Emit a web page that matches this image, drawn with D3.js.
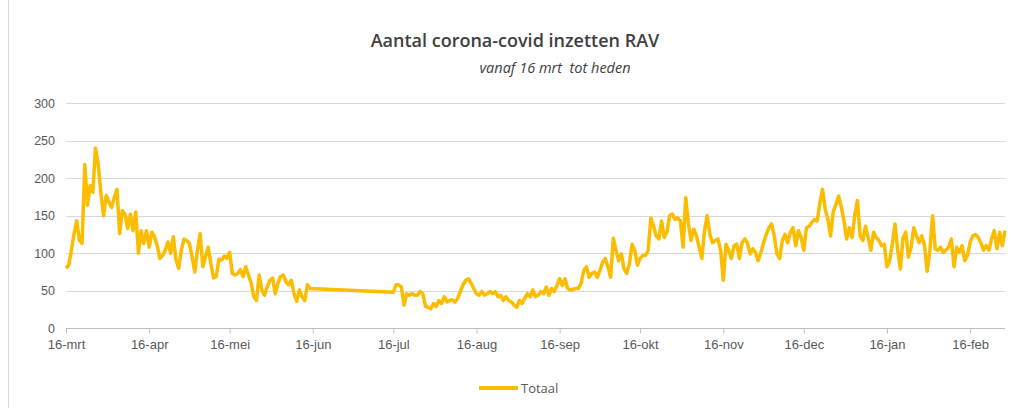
<!DOCTYPE html>
<html>
<head>
<meta charset="utf-8">
<script src="https://cdn.jsdelivr.net/npm/d3@7"></script>
<style>
  body { margin: 0; background: #fff; }
  svg { font-family: "Open Sans", sans-serif; }
</style>
</head>
<body>
<div id="chart"></div>
<script>

var titel = "Aantal corona-covid inzetten RAV";
var subtitel = "vanaf 16 mrt  tot heden";
var reeksNaam = "Totaal";

// eerste dag van de reeks, daarna 1 waarde per dag (null = geen gegevens)
var startDatum = "2020-03-16";
var totaal = [
  80, 84, 104, 126, 143, 117, 113, 218, 164, 190, 181, 240, 219, 180, 150, 177, 168, 161, 174, 185,
  126, 157, 152, 133, 152, 130, 155, 100, 130, 113, 130, 108, 128, 122, 110, 93, 97, 104, 115, 100,
  122, 91, 80, 104, 119, 117, 113, 95, 75, 104, 126, 82, 95, 108, 86, 67, 69, 92, 91, 96,
  93, 101, 73, 71, 73, 78, 69, 82, 71, 60, 42, 37, 71, 51, 44, 55, 64, 67, 46, 60,
  69, 71, 62, 58, 64, 46, 36, 51, 42, 37, 58, 53,
  null, null, null, null, null, null, null, null, null, null,
  null, null, null, null, null, null, null, null, null, null,
  null, null, null, null, null, null, null, null, null, null,
  48, 58, 58, 55, 31, 46, 44, 46, 44, 44, 49, 46, 29, 28, 26, 33, 29, 37, 33, 42,
  35, 37, 38, 35, 40, 49, 58, 64, 66, 60, 53, 46, 44, 49, 44, 46, 49, 46, 49, 42,
  44, 37, 42, 37, 35, 31, 28, 37, 33, 40, 46, 42, 51, 42, 44, 49, 46, 55, 44, 53,
  49, 57, 66, 57, 66, 53, 51, 52, 53, 53, 60, 77, 82, 68, 73, 75, 68, 77, 88, 93,
  82, 68, 120, 104, 90, 99, 79, 73, 86, 112, 104, 84, 93, 97, 97, 104, 147, 136, 123, 119,
  143, 121, 128, 150, 152, 145, 147, 143, 108, 174, 139, 117, 132, 123, 108, 93, 130, 150, 125, 114,
  117, 119, 104, 64, 112, 104, 93, 110, 112, 93, 114, 119, 114, 99, 106, 101, 90, 101, 114, 125,
  134, 139, 123, 99, 93, 117, 125, 114, 128, 134, 110, 130, 121, 104, 134, 136, 141, 145, 143, 167,
  185, 158, 145, 123, 156, 165, 176, 161, 143, 119, 134, 121, 150, 170, 123, 117, 136, 121, 104, 128,
  121, 117, 110, 112, 82, 90, 112, 139, 104, 79, 121, 128, 95, 108, 134, 123, 114, 123, 110, 76,
  104, 150, 106, 104, 108, 101, 104, 108, 119, 82, 108, 101, 110, 90, 97, 114, 123, 125, 121, 114,
  104, 110, 104, 119, 130, 106, 128, 110, 130
];

var yTicks = [0, 50, 100, 150, 200, 250, 300];
var maanden = ["jan", "feb", "mrt", "apr", "mei", "jun", "jul", "aug", "sep", "okt", "nov", "dec"];
var tickDatums = ["2020-03-16", "2020-04-16", "2020-05-16", "2020-06-16", "2020-07-16", "2020-08-16",
  "2020-09-16", "2020-10-16", "2020-11-16", "2020-12-16", "2021-01-16", "2021-02-16"];

var width = 1012;
var height = 408;

var parse = d3.timeParse("%Y-%m-%d");
var start = parse(startDatum);

var data = [];
for (var i = 0; i < totaal.length; i++) {
  if (totaal[i] === null) continue;
  data.push({ datum: d3.timeDay.offset(start, i), waarde: totaal[i] });
}

var svg = d3.select("#chart")
  .append("svg")
  .attr("width", width)
  .attr("height", height);

svg.append("rect")
  .attr("width", width)
  .attr("height", height)
  .attr("fill", "#fff");

// rand van de grafiek
svg.append("line")
  .attr("x1", 8.5).attr("x2", 8.5)
  .attr("y1", 0).attr("y2", height)
  .attr("stroke", "#d9d9d9");

var x = d3.scaleTime()
  .domain([start, d3.timeDay.offset(start, totaal.length - 1)])
  .range([66, 1005]);

var y = d3.scaleLinear()
  .domain([0, 300])
  .range([328.3, 103]);

// horizontale rasterlijnen
svg.selectAll(".grid")
  .data(yTicks)
  .enter()
  .append("line")
  .attr("class", "grid")
  .attr("x1", 66)
  .attr("x2", 1005)
  .attr("y1", function(d){ return Math.round(y(d)) + 0.5 })
  .attr("y2", function(d){ return Math.round(y(d)) + 0.5 })
  .attr("stroke", "#d9d9d9")
  .attr("stroke-width", 1);

// y-as labels
var yAxis = d3.axisLeft(y)
  .tickValues(yTicks)
  .tickSize(0)
  .tickPadding(0);

var yAxisGroup = svg.append("g")
  .attr("transform", "translate(55,0)")
  .call(yAxis);
yAxisGroup.select(".domain").remove();
yAxisGroup.selectAll("text")
  .attr("fill", "#595959")
  .style("font-size", "12.5px");

// x-as met streepjes op de 16e van elke maand
var xAxis = d3.axisBottom(x)
  .tickValues(tickDatums.map(parse))
  .tickSize(5)
  .tickPadding(6)
  .tickFormat(function(d){ return "16-" + maanden[d.getMonth()] });

var xAxisGroup = svg.append("g")
  .attr("transform", "translate(0," + (Math.round(y(0)) + 0.5) + ")")
  .call(xAxis);
xAxisGroup.select(".domain").attr("stroke", "#bfbfbf").attr("d", "M66,0H1005");
xAxisGroup.selectAll(".tick line").attr("stroke", "#bfbfbf");
xAxisGroup.selectAll("text")
  .attr("fill", "#595959")
  .style("font-size", "13px");

// de lijn
var line = d3.line()
  .x(function(d){ return x(d.datum) })
  .y(function(d){ return y(d.waarde) })
  .curve(d3.curveLinear);

svg.append("path")
  .datum(data)
  .attr("d", line)
  .attr("fill", "none")
  .attr("stroke", "#fcbc00")
  .attr("stroke-width", 3.5)
  .attr("stroke-linejoin", "round");

// titel
svg.append("text")
  .attr("x", 515)
  .attr("y", 47)
  .attr("text-anchor", "middle")
  .attr("fill", "#404040")
  .style("font-size", "18px")
  .style("font-weight", "600")
  .text(titel);

svg.append("text")
  .attr("x", 555)
  .attr("y", 73)
  .attr("text-anchor", "middle")
  .attr("fill", "#404040")
  .style("font-size", "14.5px")
  .style("font-style", "italic")
  .style("white-space", "pre")
  .attr("xml:space", "preserve")
  .text(subtitel);

// legenda
svg.append("line")
  .attr("x1", 479).attr("x2", 518)
  .attr("y1", 388).attr("y2", 388)
  .attr("stroke", "#fcbc00")
  .attr("stroke-width", 4);

svg.append("text")
  .attr("x", 521)
  .attr("y", 392.5)
  .attr("fill", "#595959")
  .style("font-size", "13px")
  .text(reeksNaam);

</script>
</body>
</html>
